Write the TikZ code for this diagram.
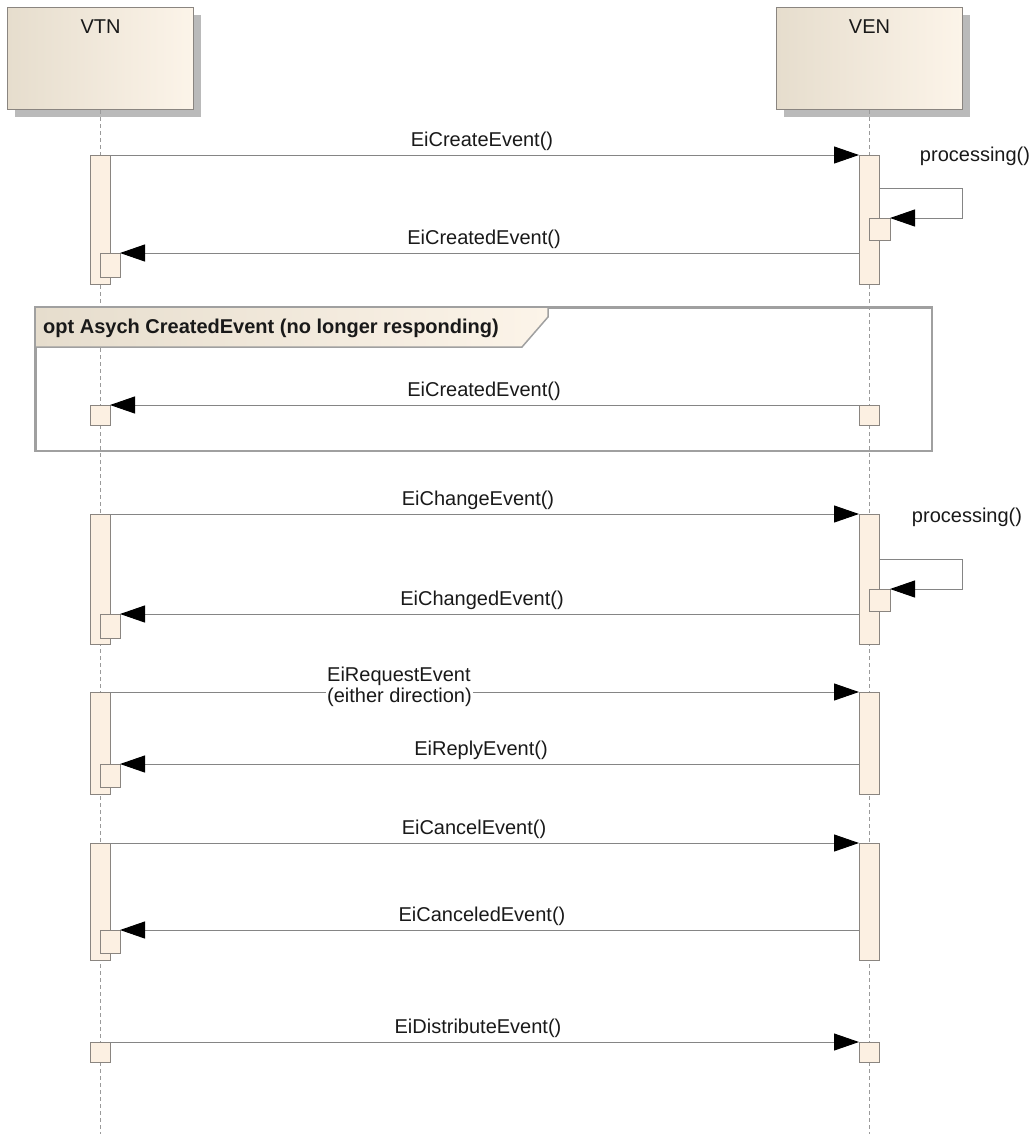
\documentclass[tikz,border=0pt]{standalone}
\usepackage{fontspec}
\setmainfont{Liberation Sans}
\usetikzlibrary{arrows.meta,shadows}

\definecolor{lineGray}{HTML}{858585}
\definecolor{boxFill}{HTML}{FCF0E2}
\definecolor{boxLine}{HTML}{8A8580}
\definecolor{headL}{HTML}{E6DDCD}
\definecolor{headR}{HTML}{FCF4E9}
\definecolor{lifeGray}{HTML}{9A9A9A}
\definecolor{frameGray}{HTML}{A0A0A0}

\begin{document}
\begin{tikzpicture}[x=1pt,y=-1pt,
  every node/.style={font=\fontsize{20}{24}\selectfont, text=black!90},
  head/.style={draw=boxLine, line width=1pt, rectangle, anchor=north west,
    minimum width=186pt, minimum height=102pt, inner sep=0pt,
    left color=headL, right color=headR,
    drop shadow={shadow xshift=7pt, shadow yshift=-7pt, fill=black!27, opacity=1}},
  act/.style={draw=boxLine, fill=boxFill, line width=0.8pt, anchor=north,
    minimum width=20pt, inner sep=0pt, outer sep=0pt},
  sub/.style={draw=boxLine, fill=boxFill, line width=0.8pt, anchor=north west,
    minimum width=20pt, inner sep=0pt, outer sep=0pt},
  life/.style={draw=lifeGray, line width=1pt, dash pattern=on 4pt off 3pt},
  msg/.style={draw=lineGray, line width=1pt,
    -{Triangle[length=25pt,width=17pt,color=black]}},
  lbl/.style={anchor=base, inner sep=0pt},
]
\useasboundingbox (0,0) rectangle (1034,1136);

% participants
\node[head] (vtn) at (7,7) {};
\node[head] (ven) at (776,7) {};
\node[lbl] (vtnT) at (vtn.north |- 0,33) {VTN};
\node[lbl] (venT) at (ven.north |- 0,33) {VEN};

% lifelines
\coordinate (vtnEnd) at (100,1134);
\coordinate (venEnd) at (869,1134);
\draw[life] (vtn.south) -- (vtn.south |- vtnEnd);
\draw[life] (ven.south) -- (ven.south |- venEnd);

% combined fragment "opt"
\node[draw=frameGray, line width=1.5pt, anchor=north west, inner sep=0pt,
  minimum width=896pt, minimum height=143pt] (optFrame) at (35,307) {};
\coordinate (tabA) at (548,307);
\coordinate (tabB) at (548,317);
\coordinate (tabC) at (522,347);
\coordinate (tabD) at (35,347);
\shade[left color=headL, right color=headR]
  (optFrame.north west) -- (tabA) -- (tabB) -- (tabC) -- (tabD) -- cycle;
\draw[frameGray, line width=1.5pt] (tabD) -- (tabC) -- (tabB) -- (tabA);
\draw[frameGray, line width=1.5pt] (optFrame.north west) rectangle (optFrame.south east);
\node[anchor=base west, inner sep=0pt, font=\fontsize{20}{24}\selectfont\bfseries]
  (optT) at (43,333) {opt Asych CreatedEvent (no longer responding)};

% activation bars
\node[act, minimum height=129pt] (vtnA1) at (100,155) {};
\node[act, minimum height=129pt] (venA1) at (869,155) {};
\node[sub, minimum width=21pt, minimum height=22pt] (venS1) at (869,218) {};
\node[sub, minimum height=24pt] (vtnS1) at (100,253) {};

\node[act, minimum height=20pt] (optVtn) at (100,405) {};
\node[act, minimum height=20pt] (optVen) at (869,405) {};

\node[act, minimum height=130pt] (vtnA2) at (100,514) {};
\node[act, minimum height=130pt] (venA2) at (869,514) {};
\node[sub, minimum width=21pt, minimum height=22pt] (venS2) at (869,589) {};
\node[sub, minimum height=24pt] (vtnS2) at (100,614) {};

\node[act, minimum height=102pt] (vtnA3) at (100,692) {};
\node[act, minimum height=102pt] (venA3) at (869,692) {};
\node[sub, minimum height=23pt] (vtnS3) at (100,764) {};

\node[act, minimum height=117pt] (vtnA4) at (100,843) {};
\node[act, minimum height=117pt] (venA4) at (869,843) {};
\node[sub, minimum height=23pt] (vtnS4) at (100,930) {};

\node[act, minimum height=20pt] (vtnA5) at (100,1042) {};
\node[act, minimum height=20pt] (venA5) at (869,1042) {};

% loop turning points of the self calls
\coordinate (loop1a) at (962,188);
\coordinate (loop1b) at (962,218);
\coordinate (loop2a) at (962,559);
\coordinate (loop2b) at (962,589);

% messages
\draw[msg] (vtnA1.north east) -- (venA1.north west);
\node[lbl] (m1) at (482,146.5) {EiCreateEvent()};
\draw[msg] (venA1.east |- loop1a) -- (loop1a) -- (loop1b) -- (venS1.north east);
\node[lbl] (p1) at (975,161) {processing()};
\draw[msg] (venA1.west |- vtnS1.north) -- (vtnS1.north east);
\node[lbl] (m2) at (484,244.5) {EiCreatedEvent()};

\draw[msg] (optVen.north west) -- (optVtn.north east);
\node[lbl] (m3) at (484,396.5) {EiCreatedEvent()};

\draw[msg] (vtnA2.north east) -- (venA2.north west);
\node[lbl] (m4) at (478,505.5) {EiChangeEvent()};
\draw[msg] (venA2.east |- loop2a) -- (loop2a) -- (loop2b) -- (venS2.north east);
\node[lbl] (p2) at (967,522) {processing()};
\draw[msg] (venA2.west |- vtnS2.north) -- (vtnS2.north east);
\node[lbl] (m5) at (482,605.5) {EiChangedEvent()};

\draw[msg] (vtnA3.north east) -- (venA3.north west);
\node[anchor=base west, inner sep=0pt] (m6a) at (327,681) {EiRequestEvent};
\node[anchor=base west, inner sep=1pt, fill=white] (m6b) at (326,702) {(either direction)};
\draw[msg] (venA3.west |- vtnS3.north) -- (vtnS3.north east);
\node[lbl] (m7) at (481,755.5) {EiReplyEvent()};

\draw[msg] (vtnA4.north east) -- (venA4.north west);
\node[lbl] (m8) at (474,834.5) {EiCancelEvent()};
\draw[msg] (venA4.west |- vtnS4.north) -- (vtnS4.north east);
\node[lbl] (m9) at (482,921.5) {EiCanceledEvent()};

\draw[msg] (vtnA5.north east) -- (venA5.north west);
\node[lbl] (m10) at (478,1033.5) {EiDistributeEvent()};
\end{tikzpicture}
\end{document}
